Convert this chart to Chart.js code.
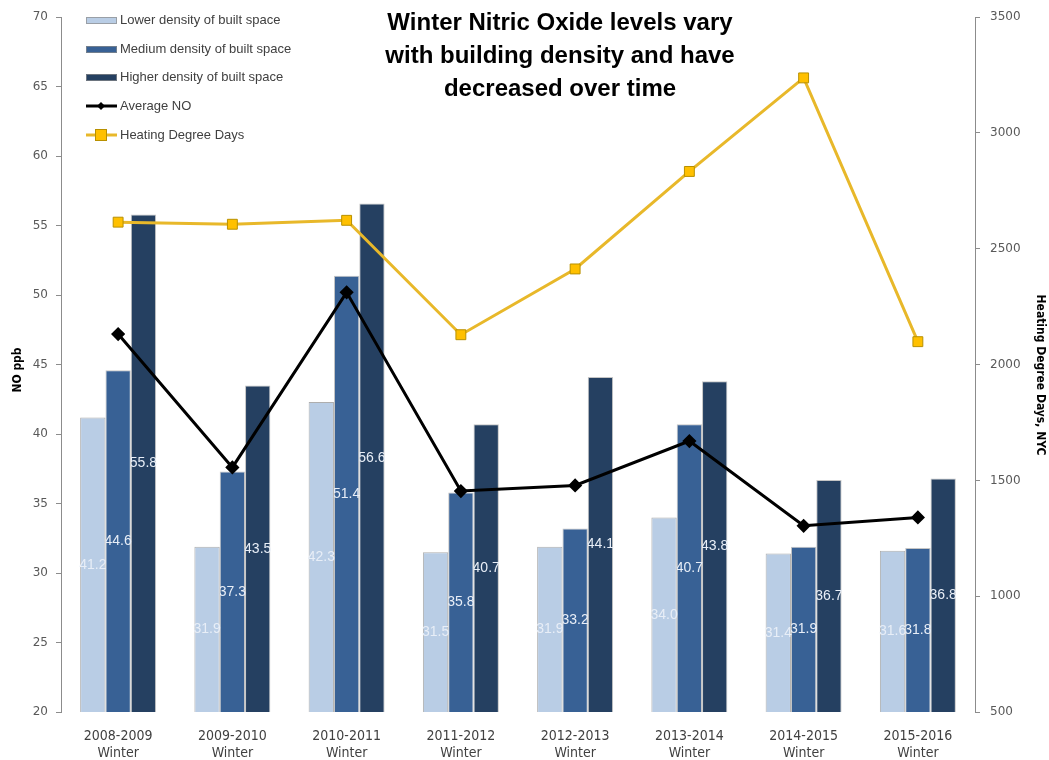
<!DOCTYPE html>
<html>
<head>
<meta charset="utf-8">
<script src="https://cdn.jsdelivr.net/npm/chart.js@4.4.1/dist/chart.umd.min.js"></script>
<style>
  body { margin: 0; background: #fff; }
  #wrap { width: 1049px; height: 760px; }
</style>
</head>
<body>
<div id="wrap"><canvas id="grafico" width="1049" height="760"></canvas></div>
<script>
const seasons = [
    ['2008-2009', 'Winter'], ['2009-2010', 'Winter'], ['2010-2011', 'Winter'], ['2011-2012', 'Winter'],
    ['2012-2013', 'Winter'], ['2013-2014', 'Winter'], ['2014-2015', 'Winter'], ['2015-2016', 'Winter']
];
const lowerDensity = [41.2, 31.9, 42.3, 31.5, 31.9, 34.0, 31.4, 31.6];
const mediumDensity = [44.6, 37.3, 51.4, 35.8, 33.2, 40.7, 31.9, 31.8];
const higherDensity = [55.8, 43.5, 56.6, 40.7, 44.1, 43.8, 36.7, 36.8];
const averageNO = [47.2, 37.6, 50.2, 35.9, 36.3, 39.5, 33.4, 34.0];
const heatingDegreeDays = [2615, 2606, 2623, 2129, 2413, 2834, 3238, 2099];

const titleLines = ['Winter Nitric Oxide levels vary', 'with building density and have', 'decreased over time'];
const narrow = "'Liberation Sans Narrow', 'DejaVu Sans Condensed', Arial, sans-serif";

// etiquetas blancas dentro de las barras
const barLabels = {
    id: 'barLabels',
    afterDatasetDraw(chart, args) {
        const ds = chart.data.datasets[args.index];
        if (ds.type !== 'bar') return;
        const ctx = chart.ctx;
        const bottom = chart.chartArea.bottom;
        ctx.save();
        ctx.font = "14px 'Liberation Sans', Arial, sans-serif";
        ctx.fillStyle = '#e8eef7';
        ctx.textAlign = 'center';
        ctx.textBaseline = 'middle';
        args.meta.data.forEach((bar, i) => {
            ctx.fillText(ds.data[i].toFixed(1), bar.x, (bar.y + bottom) / 2);
        });
        ctx.restore();
    }
};

// titulo, leyenda y titulos de ejes
const extras = {
    id: 'extras',
    afterDraw(chart) {
        const ctx = chart.ctx;
        ctx.save();
        ctx.fillStyle = '#000';
        ctx.font = "bold 24px 'Liberation Sans', Arial, sans-serif";
        ctx.textAlign = 'center';
        ctx.textBaseline = 'middle';
        titleLines.forEach((t, i) => ctx.fillText(t, 560, 23 + i * 33));

        const rows = [20, 49, 77, 106, 135];
        chart.data.datasets.forEach((ds, i) => {
            const y = rows[i];
            if (ds.type === 'bar') {
                ctx.fillStyle = ds.backgroundColor;
                ctx.fillRect(86, y - 3, 31, 7);
                ctx.strokeStyle = 'rgba(140,140,140,0.7)';
                ctx.lineWidth = 1;
                ctx.strokeRect(86.5, y - 2.5, 30, 6);
            } else {
                ctx.strokeStyle = ds.borderColor;
                ctx.lineWidth = 3;
                ctx.beginPath();
                ctx.moveTo(86, y);
                ctx.lineTo(117, y);
                ctx.stroke();
                ctx.fillStyle = ds.pointBackgroundColor;
                ctx.strokeStyle = ds.pointBorderColor;
                ctx.lineWidth = 1;
                if (ds.pointStyle === 'rectRot') {
                    ctx.beginPath();
                    ctx.moveTo(101, y - 4); ctx.lineTo(105, y); ctx.lineTo(101, y + 4); ctx.lineTo(97, y);
                    ctx.closePath();
                    ctx.fill();
                } else {
                    ctx.fillRect(95, y - 6, 12, 12);
                    ctx.strokeRect(95.5, y - 5.5, 11, 11);
                }
            }
            ctx.fillStyle = '#404040';
            ctx.font = "13px 'Liberation Sans', Arial, sans-serif";
            ctx.textAlign = 'left';
            ctx.fillText(ds.label, 120, y);
        });

        ctx.fillStyle = '#000';
        ctx.font = "bold 12px " + narrow;
        ctx.textAlign = 'center';
        ctx.translate(18, 370);
        ctx.rotate(-Math.PI / 2);
        ctx.fillText('NO ppb', 0, 0);
        ctx.setTransform(1, 0, 0, 1, 0, 0);
        ctx.translate(1040, 375);
        ctx.rotate(Math.PI / 2);
        ctx.fillText('Heating Degree Days, NYC', 0, 0);
        ctx.restore();
    }
};

const ctx = document.getElementById('grafico').getContext('2d');
new Chart(ctx, {
    data: {
        labels: seasons,
        datasets: [
            {
                type: 'bar', label: 'Lower density of built space', data: lowerDensity,
                backgroundColor: '#b9cde5', borderColor: 'rgba(140,140,140,0.7)', borderWidth: 1,
                yAxisID: 'y', order: 2
            },
            {
                type: 'bar', label: 'Medium density of built space', data: mediumDensity,
                backgroundColor: '#386195', borderColor: 'rgba(140,140,140,0.5)', borderWidth: 1,
                yAxisID: 'y', order: 2
            },
            {
                type: 'bar', label: 'Higher density of built space', data: higherDensity,
                backgroundColor: '#254061', borderColor: 'rgba(140,140,140,0.5)', borderWidth: 1,
                yAxisID: 'y', order: 2
            },
            {
                type: 'line', label: 'Average NO', data: averageNO,
                borderColor: '#000', borderWidth: 3, pointStyle: 'rectRot', pointRadius: 5,
                pointBackgroundColor: '#000', pointBorderColor: '#000',
                yAxisID: 'y', order: 1
            },
            {
                type: 'line', label: 'Heating Degree Days', data: heatingDegreeDays,
                borderColor: '#e8b82a', borderWidth: 3, pointStyle: 'rect', pointRadius: 7,
                pointBackgroundColor: '#ffc000', pointBorderColor: '#b89000', pointBorderWidth: 1,
                yAxisID: 'y1', order: 0
            }
        ]
    },
    options: {
        responsive: false,
        animation: false,
        layout: { padding: { top: 14, bottom: 0, left: 0, right: 0 } },
        datasets: { bar: { categoryPercentage: 0.665, barPercentage: 1.0 } },
        plugins: { legend: { display: false }, tooltip: { enabled: false } },
        scales: {
            x: {
                grid: { display: false },
                border: { display: false },
                ticks: { color: '#404040', font: { family: narrow, size: 14 }, padding: 8, maxRotation: 0 },
                afterFit: s => { s.height = 48; }
            },
            y: {
                position: 'left', min: 20, max: 70,
                grid: { display: true, drawOnChartArea: false, tickLength: 5, color: '#8c8c8c' },
                border: { display: true, color: '#8c8c8c' },
                ticks: { stepSize: 5, color: '#595959', font: { family: "'DejaVu Sans', Verdana, sans-serif", size: 12 }, padding: 8 },
                afterFit: s => { s.width = 61; }
            },
            y1: {
                position: 'right', min: 500, max: 3500,
                grid: { display: true, drawOnChartArea: false, tickLength: 5, color: '#8c8c8c' },
                border: { display: true, color: '#8c8c8c' },
                ticks: {
                    stepSize: 500, color: '#595959', font: { family: "'DejaVu Sans', Verdana, sans-serif", size: 12 }, padding: 10,
                    callback: v => String(v)
                },
                afterFit: s => { s.width = 74; }
            }
        }
    },
    plugins: [barLabels, extras]
});
</script>
</body>
</html>
